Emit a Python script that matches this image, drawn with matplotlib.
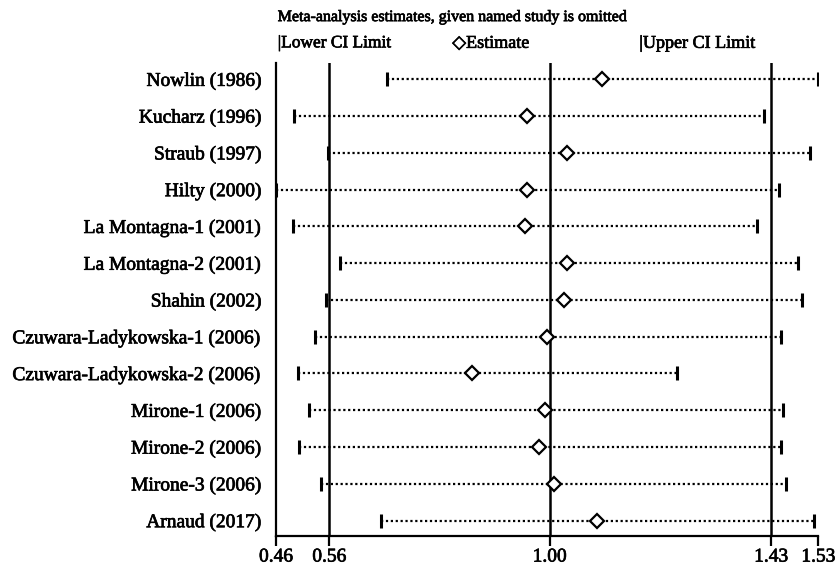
import matplotlib
matplotlib.use("Agg")
import matplotlib.pyplot as plt
import matplotlib.patheffects as pe

studies = [
    "Nowlin (1986)", "Kucharz (1996)", "Straub (1997)", "Hilty (2000)",
    "La Montagna-1 (2001)", "La Montagna-2 (2001)", "Shahin (2002)",
    "Czuwara-Ladykowska-1 (2006)", "Czuwara-Ladykowska-2 (2006)",
    "Mirone-1 (2006)", "Mirone-2 (2006)", "Mirone-3 (2006)", "Arnaud (2017)",
]
lower = [0.678, 0.496, 0.562, 0.460, 0.493, 0.586, 0.558, 0.537, 0.504, 0.525, 0.505, 0.549, 0.667]
estimate = [1.104, 0.955, 1.035, 0.956, 0.951, 1.035, 1.028, 0.994, 0.846, 0.991, 0.978, 1.009, 1.093]
upper = [1.530, 1.422, 1.514, 1.453, 1.409, 1.489, 1.498, 1.456, 1.251, 1.461, 1.457, 1.466, 1.522]

ref_lines = [0.565, 1.000, 1.437]          # overall lower CI, estimate, upper CI
tick_pos = [0.46, 0.565, 1.000, 1.437, 1.53]
tick_lbl = ["0.46", "0.56", "1.00", "1.43", "1.53"]

title = "Meta-analysis estimates, given named study is omitted"
leg_lower = "|Lower CI Limit"
leg_est = "\u25c7Estimate"
leg_upper = "|Upper CI Limit"

serif = ["Liberation Serif", "DejaVu Serif"]
plt.rcParams["font.family"] = serif
heavy = [pe.withStroke(linewidth=0.5, foreground="black")]

fig = plt.figure(figsize=(8.39, 5.70), dpi=100)
ax = fig.add_axes([0.329, 0.0596, 0.6464, 0.8298])

ys = list(range(len(studies)))
for y, lo, es, up in zip(ys, lower, estimate, upper):
    ax.plot([lo, up], [y, y], color="black", lw=1.6, linestyle=(0, (1, 1.2)), zorder=2)
ax.plot(lower, ys, linestyle="none", marker="|", markersize=9.5, mew=2.2, color="black", zorder=3)
ax.plot(upper, ys, linestyle="none", marker="|", markersize=9.5, mew=2.2, color="black", zorder=3)
ax.plot(estimate, ys, linestyle="none", marker="D", markersize=7.3, mew=1.6,
        mfc="white", mec="black", zorder=4)

for v in ref_lines:
    ax.axvline(v, color="black", lw=1.8, zorder=1)

ax.set_xlim(0.46, 1.53)
ax.set_ylim(len(studies) - 1 + 0.42, -0.44)

ax.set_yticks(ys)
ax.set_yticklabels(studies, fontsize=14)
ax.tick_params(axis="y", length=0, pad=10)
ax.set_xticks(tick_pos)
ax.set_xticklabels(tick_lbl, fontsize=14)
ax.tick_params(axis="x", length=7.5, width=1.6, pad=1.5)
for t in ax.get_yticklabels() + ax.get_xticklabels():
    t.set_path_effects(heavy)

for s in ["top", "right"]:
    ax.spines[s].set_visible(False)
for s in ["left", "bottom"]:
    ax.spines[s].set_linewidth(1.6)

fig.text(0.331, 0.970, title, fontsize=11.5, va="center", ha="left", path_effects=heavy)
fig.text(0.331, 0.924, leg_lower, fontsize=12.5, va="center", ha="left", family=serif,
         path_effects=heavy)
fig.text(0.539, 0.924, leg_est, fontsize=13, va="center", ha="left",
         family=["Liberation Serif", "DejaVu Sans"], path_effects=heavy)
fig.text(0.762, 0.924, leg_upper, fontsize=13, va="center", ha="left", family=serif,
         path_effects=heavy)

fig.savefig("out.png", dpi=100)
